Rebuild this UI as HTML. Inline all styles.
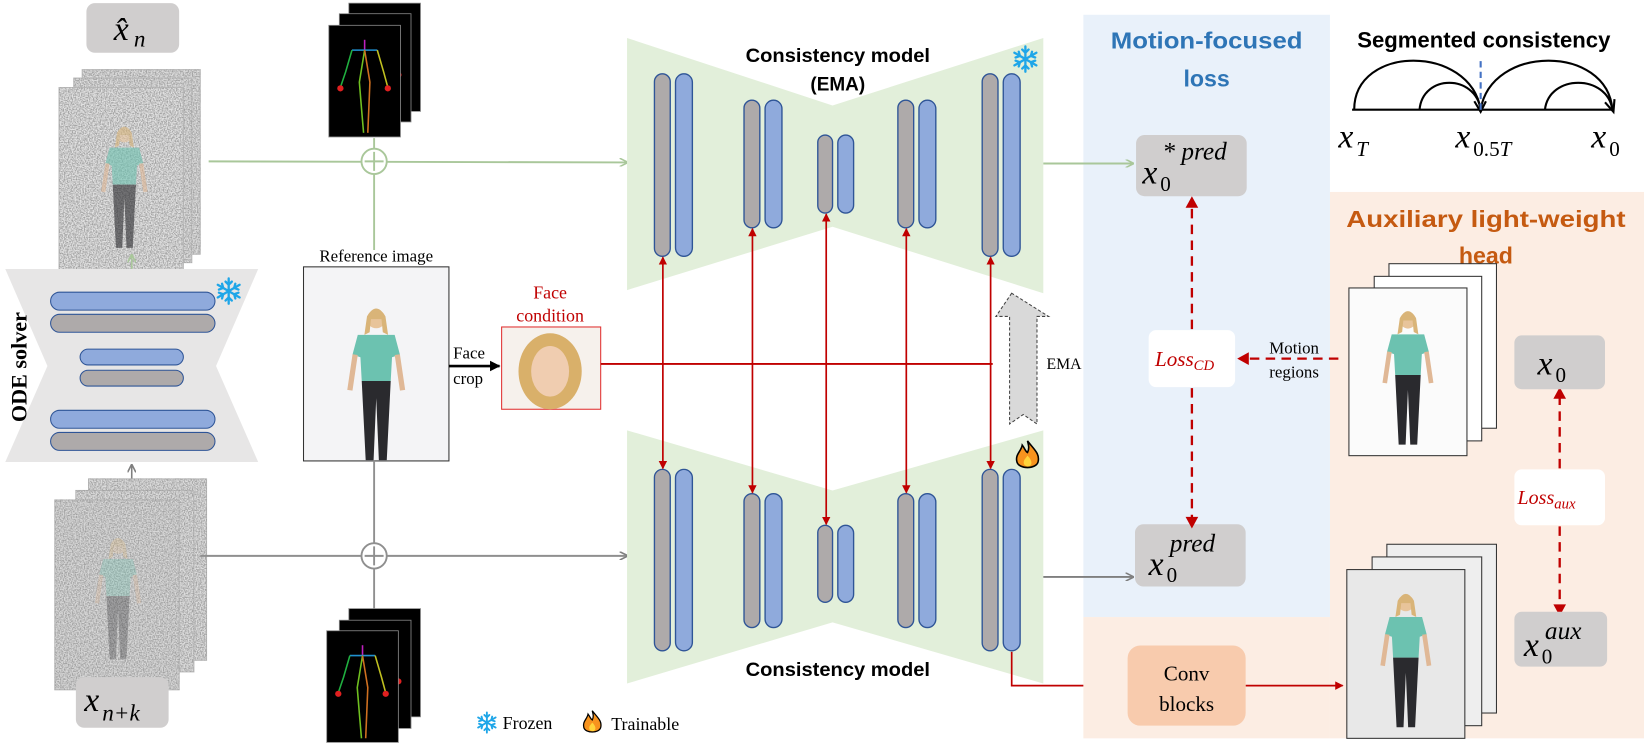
<!DOCTYPE html>
<html><head><meta charset="utf-8"><style>
html,body{margin:0;padding:0;background:#fff;}
svg{display:block;}
text{font-family:"Liberation Serif",serif;}
.b{font-family:"Liberation Sans",sans-serif;font-weight:bold;}
.m{font-style:italic;font-family:"Liberation Serif",serif;}
</style></head><body>
<svg width="1644" height="751" viewBox="0 0 1560 712" preserveAspectRatio="none" xmlns="http://www.w3.org/2000/svg">
<defs>
<filter id="nz" x="0" y="0" width="100%" height="100%"><feTurbulence type="fractalNoise" baseFrequency="0.8" numOctaves="2" seed="3"/><feColorMatrix type="matrix" values="0 0 0 0 0.35  0 0 0 0 0.35  0 0 0 0 0.35  3 0 0 0 -1.1"/></filter>
<marker id="ag" markerWidth="8" markerHeight="8" refX="7" refY="4" orient="auto" markerUnits="userSpaceOnUse"><path d="M0,0 L8,4 L0,8" fill="none" stroke="#a9c79a" stroke-width="1.5"/></marker>
<marker id="agr" markerWidth="8" markerHeight="8" refX="7" refY="4" orient="auto" markerUnits="userSpaceOnUse"><path d="M0,0 L8,4 L0,8" fill="none" stroke="#7f7f7f" stroke-width="1.5"/></marker>
<marker id="ar" markerWidth="8" markerHeight="8" refX="7" refY="4" orient="auto-start-reverse" markerUnits="userSpaceOnUse"><path d="M0,0 L8,4 L0,8 z" fill="#c00000"/></marker>
<marker id="ak" markerWidth="10" markerHeight="10" refX="9" refY="5" orient="auto" markerUnits="userSpaceOnUse"><path d="M0,0 L10,5 L0,10 z" fill="#000"/></marker>
<g id="person">
<circle cx="0" cy="-62" r="7" fill="#e8c49a"/><path d="M-7,-64 q7,-12 14,0 l2,14 -4,-2 -1,-10 -8,0 -1,10 -4,2z" fill="#d9b478"/>
<path d="M-14,-50 L14,-50 L18,-35 L12,-33 L11,-15 L-11,-15 L-12,-33 L-18,-35z" fill="#6cc2b0"/>
<path d="M-16,-35 L-20,-8 M16,-35 L20,-8" stroke="#e0b896" stroke-width="4"/>
<path d="M-11,-15 L11,-15 L8,45 L2,45 L0,-2 L-2,45 L-8,45z" fill="#2a2a2e"/>
</g>
<g id="pose">
<rect x="0" y="0" width="68" height="108" fill="#000" stroke="#888" stroke-width="0.8"/>
<path d="M34,14 L34,24" stroke="#c020c0" stroke-width="1.5"/>
<path d="M22,24 L46,24" stroke="#2090d0" stroke-width="1.5"/>
<path d="M22,24 L16,45 L11,60" stroke="#20b040" stroke-width="1.5"/>
<path d="M46,24 L52,45 L56,60" stroke="#c0c020" stroke-width="1.5"/>
<path d="M34,24 L29,55 L31,80 L33,104" stroke="#70c020" stroke-width="1.5"/>
<path d="M34,24 L39,55 L38,80 L37,104" stroke="#d07020" stroke-width="1.5"/>
<circle cx="11" cy="61" r="3" fill="#e02020"/><circle cx="56" cy="61" r="3" fill="#e02020"/>
</g>
<g id="snow" stroke="#1fa6e8" stroke-width="2.2" stroke-linecap="round" fill="none">
<path d="M0,-12 V12 M-10.4,-6 L10.4,6 M-10.4,6 L10.4,-6"/>
<path d="M-3,-9 L0,-6 L3,-9 M-3,9 L0,6 L3,9 M-9.3,-1.5 L-5.2,-3 L-6.3,-7 M9.3,1.5 L5.2,3 L6.3,7 M-9.3,1.5 L-5.2,3 L-6.3,7 M9.3,-1.5 L5.2,-3 L6.3,-7"/>
</g>
<g id="fire"><path d="M0,-14 C6,-6 12,-2 10,6 C8,13 -8,13 -10,6 C-12,-1 -6,-4 -5,-10 C-2,-6 -2,-4 0,-3 C2,-7 1,-10 0,-14z" fill="#f7931e" stroke="#000" stroke-width="1.5"/><path d="M0,0 C4,4 5,8 2,10 C-2,11 -5,8 -3,4 z" fill="#ffd43b"/></g>
</defs>

<!-- Left top noisy stack -->
<g>
<rect x="78" y="66" width="112" height="175" fill="#ddd" stroke="#bbb"/>
<rect x="78" y="66" width="112" height="175" filter="url(#nz)"/>
<rect x="70" y="74" width="112" height="175" fill="#ddd" stroke="#bbb"/>
<rect x="70" y="74" width="112" height="175" filter="url(#nz)"/>
<rect x="56" y="83" width="118" height="186" fill="#e2e2e2" stroke="#bbb"/>
<rect x="56" y="83" width="118" height="186" filter="url(#nz)"/>
<use href="#person" transform="translate(118,190)" opacity="0.6"/>
</g>
<rect x="82" y="3" width="88" height="47" rx="8" fill="#d0cece"/>
<text x="108" y="38" class="m" font-size="32">x̂</text><text x="127" y="44" class="m" font-size="22">n</text>
<line x1="125" y1="255" x2="125" y2="242" stroke="#a9c79a" stroke-width="1.5" marker-end="url(#ag)"/>

<!-- ODE solver -->
<polygon points="5,255 245,255 205,347 245,438 5,438 45,347" fill="#e7e6e6"/>
<rect x="48" y="277" width="156" height="17" rx="8.5" fill="#8faadc" stroke="#2f5597"/>
<rect x="48" y="298" width="156" height="17" rx="8.5" fill="#aeaaaa" stroke="#2f5597"/>
<rect x="76" y="331" width="98" height="15" rx="7.5" fill="#8faadc" stroke="#2f5597"/>
<rect x="76" y="351" width="98" height="15" rx="7.5" fill="#aeaaaa" stroke="#2f5597"/>
<rect x="48" y="389" width="156" height="17" rx="8.5" fill="#8faadc" stroke="#2f5597"/>
<rect x="48" y="410" width="156" height="17" rx="8.5" fill="#aeaaaa" stroke="#2f5597"/>
<use href="#snow" transform="translate(217,276)"/>
<text transform="translate(25,348) rotate(-90)" text-anchor="middle" font-size="21" font-weight="bold">ODE solver</text>
<line x1="125" y1="480" x2="125" y2="441" stroke="#7f7f7f" stroke-width="1.5" marker-end="url(#agr)"/>

<!-- bottom noisy stack -->
<g>
<rect x="84" y="454" width="112" height="172" fill="#ddd" stroke="#bbb"/>
<rect x="84" y="454" width="112" height="172" filter="url(#nz)"/>
<rect x="72" y="465" width="112" height="172" fill="#ddd" stroke="#bbb"/>
<rect x="72" y="465" width="112" height="172" filter="url(#nz)"/>
<rect x="52" y="474" width="118" height="180" fill="#d8d8d8" stroke="#bbb"/>
<rect x="52" y="474" width="118" height="180" filter="url(#nz)"/>
<use href="#person" transform="translate(112,580)" opacity="0.3"/>
</g>
<rect x="72" y="642" width="88" height="48" rx="8" fill="#d0cece"/>
<text x="80" y="674" class="m" font-size="32">x</text><text x="97" y="683" class="m" font-size="22">n+k</text>

<!-- top pose stack & green line -->
<use href="#pose" transform="translate(331,3) scale(1,0.95)"/>
<use href="#pose" transform="translate(322,13) scale(1,0.95)"/>
<use href="#pose" transform="translate(312,24) scale(1,0.98)"/>
<line x1="355" y1="131" x2="355" y2="237" stroke="#a9c79a" stroke-width="1.8"/>
<line x1="198" y1="153" x2="595" y2="154" stroke="#a9c79a" stroke-width="1.8" marker-end="url(#ag)"/>
<circle cx="355" cy="153" r="12" fill="#fff" stroke="#a9c79a" stroke-width="1.8"/>
<path d="M355,144 V162 M346,153 H364" stroke="#a9c79a" stroke-width="1.8"/>

<!-- reference image -->
<text x="357" y="248" text-anchor="middle" font-size="16">Reference image</text>
<rect x="288" y="253" width="138" height="184" fill="#f4f4f6" stroke="#333"/>
<use href="#person" transform="translate(357,380) scale(1.25)"/>
<line x1="355" y1="437" x2="355" y2="598" stroke="#8f8f8f" stroke-width="1.8"/>
<line x1="190" y1="527" x2="595" y2="527" stroke="#8f8f8f" stroke-width="1.8" marker-end="url(#agr)"/>
<circle cx="355" cy="527" r="12" fill="#fff" stroke="#8f8f8f" stroke-width="1.8"/>
<path d="M355,518 V536 M346,527 H364" stroke="#8f8f8f" stroke-width="1.8"/>
<use href="#pose" transform="translate(331,577) scale(1,0.95)"/>
<use href="#pose" transform="translate(322,588) scale(1,0.95)"/>
<use href="#pose" transform="translate(310,598) scale(1,0.98)"/>

<!-- face crop -->
<line x1="426" y1="347" x2="474" y2="347" stroke="#000" stroke-width="2.5" marker-end="url(#ak)"/>
<text x="430" y="340" font-size="16">Face</text><text x="430" y="364" font-size="16">crop</text>
<text x="522" y="283" text-anchor="middle" font-size="17" fill="#c00000">Face</text>
<text x="522" y="305" text-anchor="middle" font-size="17" fill="#c00000">condition</text>
<rect x="476" y="310" width="94" height="78" fill="#f6f1ec" stroke="#e03030"/>
<ellipse cx="522" cy="352" rx="30" ry="36" fill="#d9b06a"/><ellipse cx="522" cy="352" rx="18" ry="24" fill="#f0cdb0"/>
<line x1="570" y1="345" x2="942" y2="345" stroke="#c00000" stroke-width="1.8"/>

<!-- consistency models -->
<polygon points="595,36 790,100 990,36 990,278 790,215 595,275" fill="#e2efda"/>
<polygon points="595,408 790,465 990,408 990,648 790,590 595,648" fill="#e2efda"/>
<g stroke="#2f5597" stroke-width="1.3">
<rect x="621" y="70" width="15" height="173" rx="7.5" fill="#aeaaaa"/><rect x="641" y="70" width="16" height="173" rx="8" fill="#8faadc"/>
<rect x="706" y="95" width="15" height="121" rx="7.5" fill="#aeaaaa"/><rect x="726" y="95" width="16" height="121" rx="8" fill="#8faadc"/>
<rect x="776" y="128" width="14" height="74" rx="7" fill="#aeaaaa"/><rect x="795" y="128" width="15" height="74" rx="7.5" fill="#8faadc"/>
<rect x="852" y="95" width="15" height="121" rx="7.5" fill="#aeaaaa"/><rect x="872" y="95" width="16" height="121" rx="8" fill="#8faadc"/>
<rect x="932" y="70" width="15" height="173" rx="7.5" fill="#aeaaaa"/><rect x="952" y="70" width="16" height="173" rx="8" fill="#8faadc"/>
<rect x="621" y="445" width="15" height="172" rx="7.5" fill="#aeaaaa"/><rect x="641" y="445" width="16" height="172" rx="8" fill="#8faadc"/>
<rect x="706" y="468" width="15" height="127" rx="7.5" fill="#aeaaaa"/><rect x="726" y="468" width="16" height="127" rx="8" fill="#8faadc"/>
<rect x="776" y="498" width="14" height="73" rx="7" fill="#aeaaaa"/><rect x="795" y="498" width="15" height="73" rx="7.5" fill="#8faadc"/>
<rect x="852" y="468" width="15" height="127" rx="7.5" fill="#aeaaaa"/><rect x="872" y="468" width="16" height="127" rx="8" fill="#8faadc"/>
<rect x="932" y="445" width="15" height="172" rx="7.5" fill="#aeaaaa"/><rect x="952" y="445" width="16" height="172" rx="8" fill="#8faadc"/>
</g>
<g stroke="#c00000" stroke-width="1.6" marker-start="url(#ar)" marker-end="url(#ar)">
<line x1="629" y1="244" x2="629" y2="444"/>
<line x1="714" y1="217" x2="714" y2="467"/>
<line x1="784" y1="203" x2="784" y2="497"/>
<line x1="860" y1="217" x2="860" y2="467"/>
<line x1="940" y1="244" x2="940" y2="444"/>
</g>
<text x="795" y="59" text-anchor="middle" class="b" font-size="18" textLength="175" lengthAdjust="spacingAndGlyphs">Consistency model</text>
<text x="795" y="86" text-anchor="middle" class="b" font-size="18">(EMA)</text>
<text x="795" y="641" text-anchor="middle" class="b" font-size="18" textLength="175" lengthAdjust="spacingAndGlyphs">Consistency model</text>
<use href="#snow" transform="translate(973,56)"/>
<use href="#fire" transform="translate(975,432)"/>
<path d="M960,278 L945,300 L958,300 L958,402 L971,393 L984,402 L984,300 L995,300 Z" fill="#d9d9d9" stroke="#444" stroke-dasharray="3,2" stroke-width="1"/>
<text x="993" y="350" font-size="15">EMA</text>
<path d="M960,618 V650 H1068" fill="none" stroke="#c00000" stroke-width="1.6" marker-end="url(#ar)"/>

<!-- panels -->
<rect x="1028" y="14" width="234" height="571" fill="#e9f1fa"/>
<rect x="1262" y="182" width="298" height="518" fill="#fcede3"/>
<rect x="1028" y="585" width="234" height="115" fill="#fcede3"/>
<text x="1145" y="46" text-anchor="middle" class="b" font-size="22" fill="#2e75b6" textLength="182" lengthAdjust="spacingAndGlyphs">Motion-focused</text>
<text x="1145" y="82" text-anchor="middle" class="b" font-size="22" fill="#2e75b6">loss</text>
<text x="1410" y="215" text-anchor="middle" class="b" font-size="22" fill="#c55a11" textLength="265" lengthAdjust="spacingAndGlyphs">Auxiliary light-weight</text>
<text x="1410" y="250" text-anchor="middle" class="b" font-size="22" fill="#c55a11">head</text>

<line x1="990" y1="155" x2="1075" y2="155" stroke="#a9c79a" stroke-width="1.8" marker-end="url(#ag)"/>
<line x1="990" y1="547" x2="1075" y2="547" stroke="#7f7f7f" stroke-width="1.8" marker-end="url(#agr)"/>

<rect x="1078" y="128" width="105" height="58" rx="8" fill="#d0cece"/>
<text x="1084" y="174" class="m" font-size="32">x</text><text x="1101" y="181" font-size="20">0</text>
<text x="1103" y="151" class="m" font-size="24">* pred</text>
<rect x="1077" y="497" width="105" height="59" rx="8" fill="#d0cece"/>
<text x="1090" y="545" class="m" font-size="32">x</text><text x="1107" y="552" font-size="20">0</text>
<text x="1110" y="523" class="m" font-size="24">pred</text>

<g stroke="#c00000" stroke-width="2.2" stroke-dasharray="9,6" fill="none">
<line x1="1131" y1="312" x2="1131" y2="192"/>
<line x1="1131" y1="368" x2="1131" y2="493"/>
<line x1="1270" y1="340" x2="1180" y2="340"/>
<line x1="1480" y1="444" x2="1480" y2="374"/>
<line x1="1480" y1="499" x2="1480" y2="576"/>
</g>
<g fill="#c00000">
<path d="M1125,197 L1131,186 L1137,197z"/><path d="M1125,490 L1131,501 L1137,490z"/>
<path d="M1185,334 L1174,340 L1185,346z"/>
<path d="M1474,378 L1480,367 L1486,378z"/><path d="M1474,573 L1480,584 L1486,573z"/>
</g>
<rect x="1090" y="313" width="82" height="54" rx="7" fill="#fff"/>
<text x="1096" y="347" class="m" font-size="20" fill="#c00000">Loss<tspan font-size="14" dy="4">CD</tspan></text>
<text x="1228" y="335" text-anchor="middle" font-size="16">Motion</text>
<text x="1228" y="358" text-anchor="middle" font-size="16">regions</text>

<!-- right image stacks -->
<rect x="1318" y="250" width="102" height="156" fill="#fff" stroke="#333"/>
<rect x="1304" y="262" width="102" height="156" fill="#fff" stroke="#333"/>
<rect x="1280" y="273" width="112" height="159" fill="#fbfbfb" stroke="#333"/>
<use href="#person" transform="translate(1336,372) scale(1.1)"/>
<rect x="1316" y="516" width="104" height="160" fill="#eee" stroke="#333"/>
<rect x="1302" y="528" width="104" height="160" fill="#eee" stroke="#333"/>
<rect x="1278" y="540" width="112" height="160" fill="#e8e8e8" stroke="#333"/>
<use href="#person" transform="translate(1334,640) scale(1.1)"/>
<line x1="1182" y1="650" x2="1274" y2="650" stroke="#c00000" stroke-width="1.6" marker-end="url(#ar)"/>
<rect x="1070" y="612" width="112" height="76" rx="12" fill="#f8cbad"/>
<text x="1126" y="645" text-anchor="middle" font-size="20">Conv</text>
<text x="1126" y="674" text-anchor="middle" font-size="20">blocks</text>

<rect x="1437" y="318" width="86" height="51" rx="7" fill="#d0cece"/>
<text x="1459" y="355" class="m" font-size="32">x</text><text x="1476" y="362" font-size="20">0</text>
<rect x="1437" y="445" width="86" height="53" rx="7" fill="#fff"/>
<text x="1440" y="478" class="m" font-size="19" fill="#c00000">Loss<tspan font-size="14" dy="4">aux</tspan></text>
<rect x="1437" y="580" width="88" height="52" rx="7" fill="#d0cece"/>
<text x="1446" y="622" class="m" font-size="32">x</text><text x="1463" y="629" font-size="20">0</text>
<text x="1466" y="606" class="m" font-size="24">aux</text>

<!-- segmented consistency -->
<text x="1408" y="45" text-anchor="middle" class="b" font-size="21">Segmented consistency</text>
<line x1="1283" y1="104" x2="1530" y2="104" stroke="#000" stroke-width="2"/>
<g fill="none" stroke="#000" stroke-width="2">
<path d="M1285,104 C1285,42 1395,42 1405,104"/>
<path d="M1347,104 C1350,70 1400,70 1405,104"/>
<path d="M1405,104 C1415,42 1525,42 1530,104"/>
<path d="M1466,104 C1470,70 1525,70 1530,104"/>
</g>
<path d="M1399,96 L1405,106 L1410,96 M1523,97 L1531,106 L1532,94" fill="none" stroke="#000" stroke-width="2"/>
<line x1="1405" y1="58" x2="1405" y2="104" stroke="#4472c4" stroke-width="2" stroke-dasharray="6,4"/>
<text x="1270" y="140" class="m" font-size="32">x</text><text x="1287" y="148" class="m" font-size="20">T</text>
<text x="1381" y="140" class="m" font-size="32">x</text><text x="1398" y="148" font-size="20">0.5<tspan class="m">T</tspan></text>
<text x="1510" y="140" class="m" font-size="32">x</text><text x="1527" y="148" font-size="20">0</text>

<!-- legend -->
<use href="#snow" transform="translate(462,685) scale(0.8)"/>
<text x="477" y="691" font-size="17">Frozen</text>
<use href="#fire" transform="translate(562,685) scale(0.8)"/>
<text x="580" y="692" font-size="17">Trainable</text>
</svg>
</body></html>
